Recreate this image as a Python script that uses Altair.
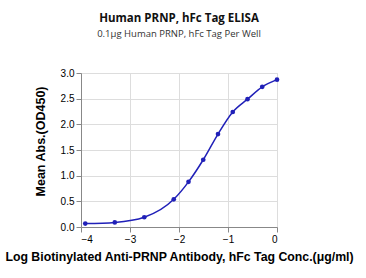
import altair as alt
import pandas as pd

log_conc = [-3.913, -3.311, -2.709, -2.107, -1.806, -1.505, -1.204, -0.903, -0.602, -0.301, 0.0]
od450 = [0.066, 0.09, 0.19, 0.54, 0.88, 1.31, 1.81, 2.24, 2.49, 2.73, 2.87]
x_ticks = [-4, -3, -2, -1, 0]
y_ticks = [0, 0.5, 1, 1.5, 2, 2.5, 3]

df = pd.DataFrame({"x": log_conc, "y": od450})

FONT = "Open Sans"
BLUE = "#2020b8"

x_enc = alt.X("x:Q", scale=alt.Scale(domain=[-4, 0], nice=False, zero=False),
              axis=alt.Axis(values=x_ticks, format="d",
                            title="Log Biotinylated Anti-PRNP Antibody, hFc Tag Conc.(μg/ml)",
                            titlePadding=6, titleFontSize=12.3, labelOverlap=False))
y_enc = alt.Y("y:Q", scale=alt.Scale(domain=[0, 3], nice=False),
              axis=alt.Axis(values=y_ticks, format=".1f",
                            title="Mean Abs.(OD450)", titleX=-34, titleY=68,
                            titleFontSize=12.5, labelOverlap=False))

base = alt.Chart(df).encode(x=x_enc, y=y_enc)
line = base.mark_line(color=BLUE, strokeWidth=1.5, interpolate="monotone")
pts = base.mark_point(color=BLUE, filled=True, size=22, opacity=1)

chart = (line + pts).properties(
    width=196, height=154,
    autosize=alt.AutoSizeParams(type="none"),
    padding={"left": 81, "top": 73, "right": 89, "bottom": 51},
    title=alt.TitleParams(
        text="Human PRNP, hFc Tag ELISA",
        subtitle="0.1μg Human PRNP, hFc Tag Per Well",
        font=FONT, fontSize=11.5, fontWeight="bold", color="#111111",
        subtitleFont=FONT, subtitleFontSize=9.5, subtitleColor="#333333",
        subtitlePadding=4, offset=30, anchor="middle",
    ),
).configure_view(stroke=None).configure_axis(
    grid=False, domainColor="#222222", domainWidth=1.5, tickColor="#222222",
    tickWidth=1.5, tickSize=4, labelFont=FONT, labelFontSize=10, labelFontWeight="bold",
    labelColor="#111111", titleFont=FONT, titleFontWeight="bold",
    titleColor="#111111", labelPadding=2,
).configure_axisX(labelPadding=4).configure(background="white")

chart.save("out.html", embed_options={"renderer": "svg", "actions": False})
